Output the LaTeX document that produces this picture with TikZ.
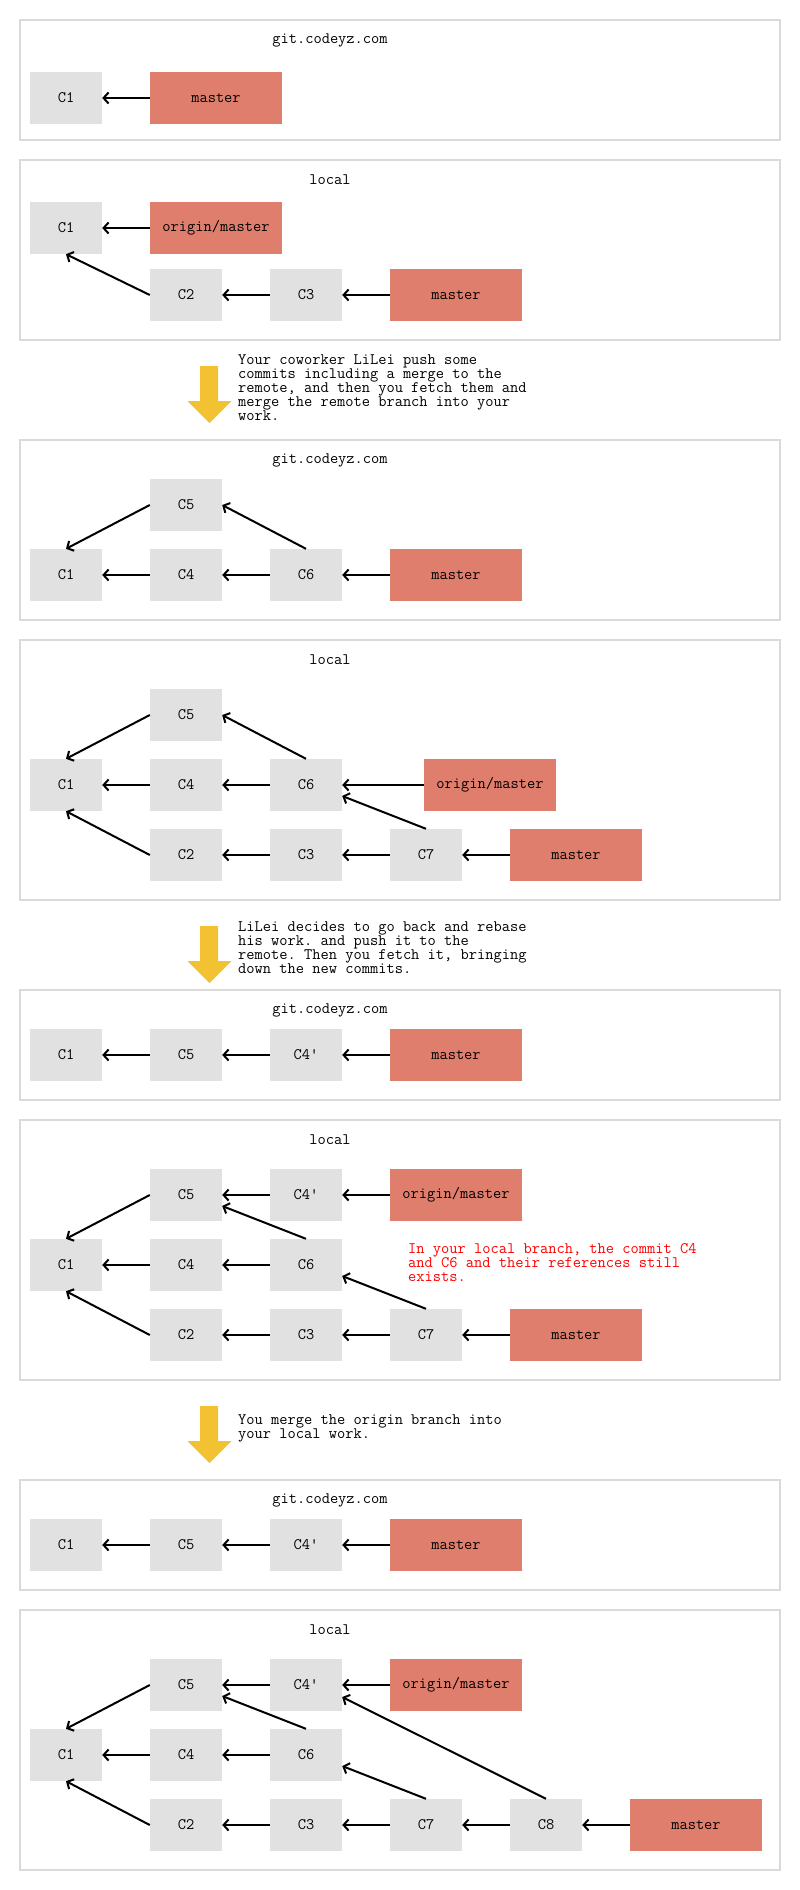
\documentclass[tikz,border=0pt]{standalone}
\usetikzlibrary{arrows.meta}
\definecolor{cgrey}{HTML}{E1E1E1}
\definecolor{cred}{HTML}{DF7E6C}
\definecolor{cyel}{HTML}{F2C232}
\definecolor{cframe}{HTML}{DADADA}
\definecolor{cnote}{HTML}{FF0000}
\newcommand\yelarrow[1]{%
  \fill[bigarrow,shift={(0,#1)}] (200,0) -- (218,0) -- (218,35) -- (231.5,35) -- (209.5,57) -- (187.5,35) -- (200,35) -- cycle;}
\frenchspacing
\begin{document}
\begin{tikzpicture}[x=1pt,y=-1pt,
  every node/.style={font=\ttfamily\fontsize{16}{14}\selectfont},
  commit/.style={fill=cgrey, minimum width=72pt, minimum height=52pt, inner sep=0pt},
  ref/.style={fill=cred, minimum width=132pt, minimum height=52pt, inner sep=0pt},
  link/.style={line width=2pt, -{Straight Barb[length=5pt,width=11pt]}},
  frame/.style={draw=cframe, line width=2pt},
  title/.style={inner sep=0pt},
  caption/.style={anchor=west, align=left, inner sep=0pt},
  bigarrow/.style={fill=cyel}
]
\useasboundingbox (0,0) rectangle (800,1890);

% ---------- Box 1 ----------
\draw[frame] (20,20) rectangle (780,140);
\node[title] (t1) at (330,40) {git.codeyz.com};
\node[commit] (a1) at (66,98) {C1};
\node[ref] (am) at (216,98) {master};
\draw[link] (am) -- (a1);

% ---------- Box 2 ----------
\draw[frame] (20,160) rectangle (780,340);
\node[title] (t2) at (330,180) {local};
\node[commit] (b1) at (66,228) {C1};
\node[ref] (bom) at (216,228) {origin/master};
\node[commit] (b2) at (186,295) {C2};
\node[commit] (b3) at (306,295) {C3};
\node[ref] (bm) at (456,295) {master};
\draw[link] (bom) -- (b1);
\draw[link] (b2.west) -- (b1.south);
\draw[link] (b3) -- (b2);
\draw[link] (bm) -- (b3);

% ---------- Arrow 1 ----------
\yelarrow{366}
\node[caption] (s1) at (238,388) {Your coworker LiLei push some\\commits including a merge to the\\remote, and then you fetch them and\\merge the remote branch into your\\work.};

% ---------- Box 3 ----------
\draw[frame] (20,440) rectangle (780,620);
\node[title] (t3) at (330,460) {git.codeyz.com};
\node[commit] (c5) at (186,505) {C5};
\node[commit] (c1) at (66,575) {C1};
\node[commit] (c4) at (186,575) {C4};
\node[commit] (c6) at (306,575) {C6};
\node[ref] (cm) at (456,575) {master};
\draw[link] (c5.west) -- (c1.north);
\draw[link] (c6.north) -- (c5.east);
\draw[link] (c4) -- (c1);
\draw[link] (c6) -- (c4);
\draw[link] (cm) -- (c6);

% ---------- Box 4 ----------
\draw[frame] (20,640) rectangle (780,900);
\node[title] (t4) at (330,660) {local};
\node[commit] (d5) at (186,715) {C5};
\node[commit] (d1) at (66,785) {C1};
\node[commit] (d4) at (186,785) {C4};
\node[commit] (d6) at (306,785) {C6};
\node[ref] (dom) at (490,785) {origin/master};
\node[commit] (d2) at (186,855) {C2};
\node[commit] (d3) at (306,855) {C3};
\node[commit] (d7) at (426,855) {C7};
\node[ref] (dm) at (576,855) {master};
\draw[link] (d5.west) -- (d1.north);
\draw[link] (d6.north) -- (d5.east);
\draw[link] (d4) -- (d1);
\draw[link] (d6) -- (d4);
\draw[link] (dom) -- (d6);
\draw[link] (d7.north) -- ([yshift=-11pt]d6.east);
\draw[link] (d2.west) -- (d1.south);
\draw[link] (d3) -- (d2);
\draw[link] (d7) -- (d3);
\draw[link] (dm) -- (d7);

% ---------- Arrow 2 ----------
\yelarrow{926}
\node[caption] (s2) at (238,948) {LiLei decides to go back and rebase\\his work. and push it to the\\remote. Then you fetch it, bringing\\down the new commits.};

% ---------- Box 5 ----------
\draw[frame] (20,990) rectangle (780,1100);
\node[title] (t5) at (330,1010) {git.codeyz.com};
\node[commit] (e1) at (66,1055) {C1};
\node[commit] (e5) at (186,1055) {C5};
\node[commit] (e4) at (306,1055) {C4\textquotesingle};
\node[ref] (em) at (456,1055) {master};
\draw[link] (e5) -- (e1);
\draw[link] (e4) -- (e5);
\draw[link] (em) -- (e4);

% ---------- Box 6 ----------
\draw[frame] (20,1120) rectangle (780,1380);
\node[title] (t6) at (330,1140) {local};
\node[commit] (f5) at (186,1195) {C5};
\node[commit] (f4p) at (306,1195) {C4\textquotesingle};
\node[ref] (fom) at (456,1195) {origin/master};
\node[commit] (f1) at (66,1265) {C1};
\node[commit] (f4) at (186,1265) {C4};
\node[commit] (f6) at (306,1265) {C6};
\node[commit] (f2) at (186,1335) {C2};
\node[commit] (f3) at (306,1335) {C3};
\node[commit] (f7) at (426,1335) {C7};
\node[ref] (fm) at (576,1335) {master};
\node[caption,text=cnote] (fn) at (408,1263) {In your local branch, the commit C4\\and C6 and their references still\\exists.};
\draw[link] (f4p) -- (f5);
\draw[link] (fom) -- (f4p);
\draw[link] (f5.west) -- (f1.north);
\draw[link] (f6.north) -- ([yshift=-11pt]f5.east);
\draw[link] (f4) -- (f1);
\draw[link] (f6) -- (f4);
\draw[link] (f7.north) -- ([yshift=-11pt]f6.east);
\draw[link] (f2.west) -- (f1.south);
\draw[link] (f3) -- (f2);
\draw[link] (f7) -- (f3);
\draw[link] (fm) -- (f7);

% ---------- Arrow 3 ----------
\yelarrow{1406}
\node[caption] (s3) at (238,1428) {You merge the origin branch into\\your local work.};

% ---------- Box 7 ----------
\draw[frame] (20,1480) rectangle (780,1590);
\node[title] (t7) at (330,1500) {git.codeyz.com};
\node[commit] (g1) at (66,1545) {C1};
\node[commit] (g5) at (186,1545) {C5};
\node[commit] (g4) at (306,1545) {C4\textquotesingle};
\node[ref] (gm) at (456,1545) {master};
\draw[link] (g5) -- (g1);
\draw[link] (g4) -- (g5);
\draw[link] (gm) -- (g4);

% ---------- Box 8 ----------
\draw[frame] (20,1610) rectangle (780,1870);
\node[title] (t8) at (330,1630) {local};
\node[commit] (h5) at (186,1685) {C5};
\node[commit] (h4p) at (306,1685) {C4\textquotesingle};
\node[ref] (hom) at (456,1685) {origin/master};
\node[commit] (h1) at (66,1755) {C1};
\node[commit] (h4) at (186,1755) {C4};
\node[commit] (h6) at (306,1755) {C6};
\node[commit] (h2) at (186,1825) {C2};
\node[commit] (h3) at (306,1825) {C3};
\node[commit] (h7) at (426,1825) {C7};
\node[commit] (h8) at (546,1825) {C8};
\node[ref] (hm) at (696,1825) {master};
\draw[link] (h4p) -- (h5);
\draw[link] (hom) -- (h4p);
\draw[link] (h5.west) -- (h1.north);
\draw[link] (h6.north) -- ([yshift=-11pt]h5.east);
\draw[link] (h4) -- (h1);
\draw[link] (h6) -- (h4);
\draw[link] (h7.north) -- ([yshift=-11pt]h6.east);
\draw[link] (h8.north) -- ([yshift=-12pt]h4p.east);
\draw[link] (h2.west) -- (h1.south);
\draw[link] (h3) -- (h2);
\draw[link] (h7) -- (h3);
\draw[link] (h8) -- (h7);
\draw[link] (hm) -- (h8);
\end{tikzpicture}
\end{document}
